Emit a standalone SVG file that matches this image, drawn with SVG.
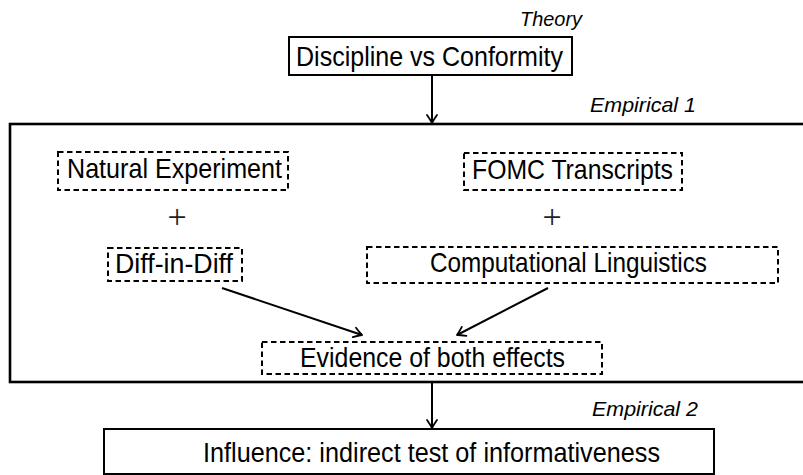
<svg xmlns="http://www.w3.org/2000/svg" width="803" height="475" viewBox="0 0 803 475">
  <style>
    .lbl { font-family: "Liberation Sans", Arial, sans-serif; font-size: 27.5px; fill: #000; }
    .tag { font-family: "Liberation Sans", Arial, sans-serif; font-size: 21px; font-style: italic; fill: #000; }
    .plus { font-family: "Liberation Serif", "Times New Roman", serif; font-size: 34px; fill: #222; text-anchor: middle; }
    .solid { fill: none; stroke: #000; stroke-width: 2; }
    .frame { fill: none; stroke: #000; stroke-width: 2.6; }
    .dash { fill: none; stroke: #000; stroke-width: 2; stroke-dasharray: 5.5 3.5; }
    .edge { fill: none; stroke: #000; stroke-width: 2; marker-end: url(#tip); }
  </style>
  <defs>
    <marker id="tip" markerUnits="userSpaceOnUse" markerWidth="14" markerHeight="14" viewBox="-10 -7 12 14" refX="0" refY="0" orient="auto">
      <path d="M-8,-5 Q-3,-1.5 0,0 Q-3,1.5 -8,5" fill="none" stroke="#000" stroke-width="1.8" stroke-linecap="round" stroke-linejoin="round"/>
    </marker>
  </defs>
  <rect width="803" height="475" fill="#fff"/>

  <!-- stage captions -->
  <text class="tag" x="520" y="26" textLength="62" lengthAdjust="spacingAndGlyphs">Theory</text>
  <text class="tag" x="590" y="112" textLength="106" lengthAdjust="spacingAndGlyphs">Empirical 1</text>
  <text class="tag" x="592" y="416" textLength="106" lengthAdjust="spacingAndGlyphs">Empirical 2</text>

  <!-- empirical stage 1 container -->
  <g id="empirical1">
    <rect class="frame" x="10" y="124" width="820" height="258"/>
  </g>

  <g id="theory">
    <rect class="solid" x="289" y="37" width="283" height="38"/>
    <text class="lbl" x="296" y="66" textLength="267" lengthAdjust="spacingAndGlyphs">Discipline vs Conformity</text>
  </g>

  <g id="natural-experiment">
    <rect class="dash" x="58" y="152" width="230" height="38"/>
    <text class="lbl" x="67" y="178" textLength="215" lengthAdjust="spacingAndGlyphs">Natural Experiment</text>
  </g>

  <g id="fomc-transcripts">
    <rect class="dash" x="464" y="153" width="218" height="37"/>
    <text class="lbl" x="472" y="179" textLength="201" lengthAdjust="spacingAndGlyphs">FOMC Transcripts</text>
  </g>

  <g id="plus-left">
    <text class="plus" x="177" y="228">+</text>
  </g>
  <g id="plus-right">
    <text class="plus" x="552" y="228">+</text>
  </g>

  <g id="diff-in-diff">
    <rect class="dash" x="108" y="248" width="134" height="33"/>
    <text class="lbl" x="115" y="273" textLength="118" lengthAdjust="spacingAndGlyphs">Diff-in-Diff</text>
  </g>

  <g id="computational-linguistics">
    <rect class="dash" x="367" y="247" width="411" height="36"/>
    <text class="lbl" x="430" y="272" textLength="277" lengthAdjust="spacingAndGlyphs">Computational Linguistics</text>
  </g>

  <g id="evidence">
    <rect class="dash" x="262" y="342" width="340" height="32"/>
    <text class="lbl" x="300" y="367" textLength="265" lengthAdjust="spacingAndGlyphs">Evidence of both effects</text>
  </g>

  <g id="influence">
    <rect class="solid" x="104" y="429" width="610" height="45"/>
    <text class="lbl" x="203" y="462" textLength="457" lengthAdjust="spacingAndGlyphs">Influence: indirect test of informativeness</text>
  </g>

  <!-- connectors -->
  <g id="connectors">
    <path class="edge" d="M432,75 L432,123"/>
    <path class="edge" d="M222,288 L362,335"/>
    <path class="edge" d="M548,288 L457,335"/>
    <path class="edge" d="M432,382 L432,428"/>
  </g>
</svg>
